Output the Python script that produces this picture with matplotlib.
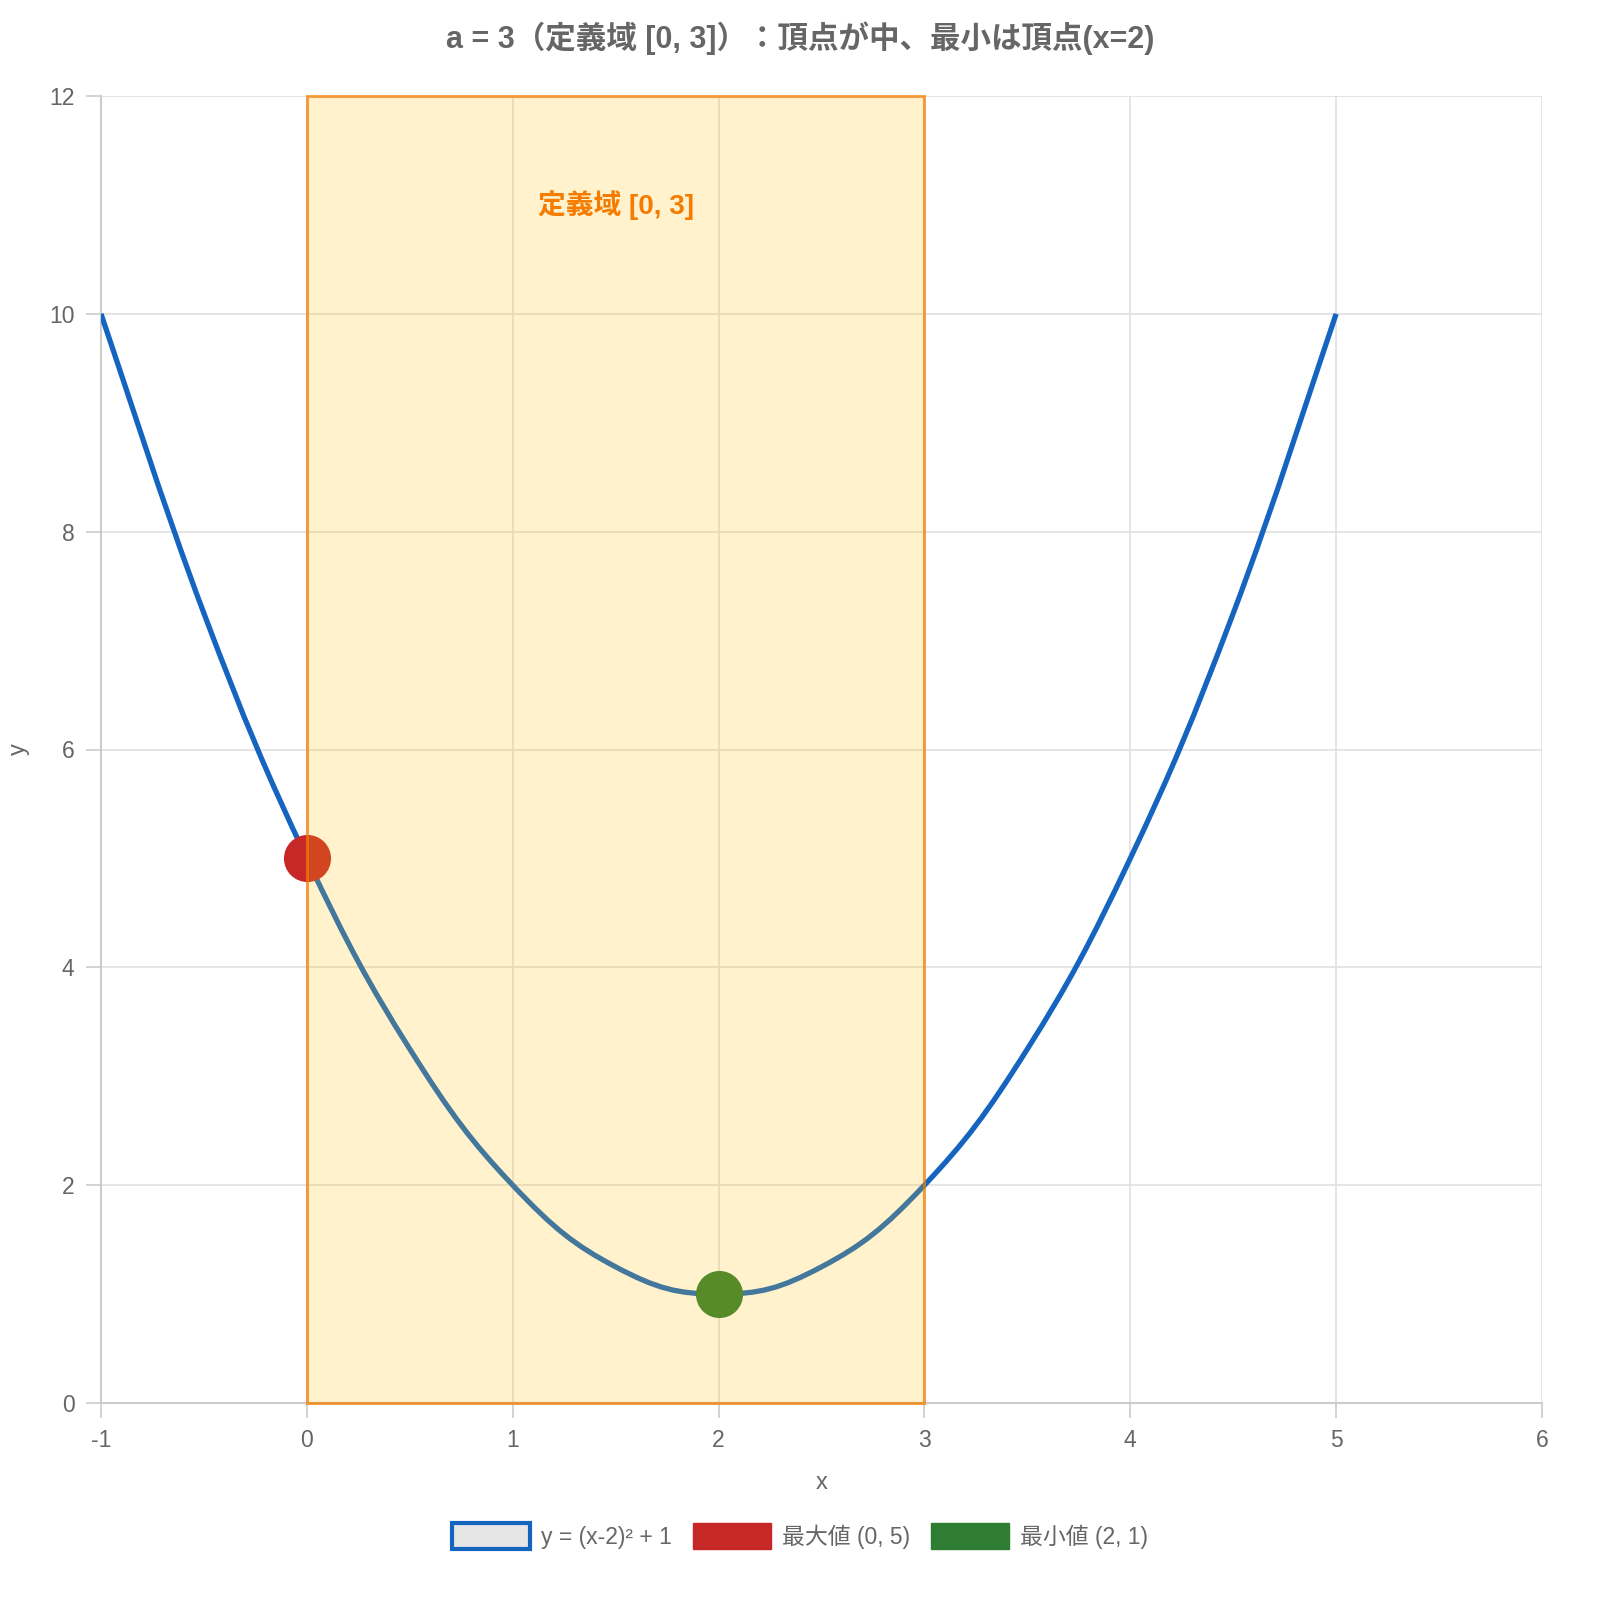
import numpy as np
import matplotlib
matplotlib.use("Agg")
import matplotlib.pyplot as plt
from matplotlib.path import Path
from matplotlib.patches import PathPatch, Rectangle, Patch

plt.rcParams['font.family'] = ['Liberation Sans', 'Noto Sans CJK JP', 'DejaVu Sans']
plt.rcParams['axes.unicode_minus'] = False

# data
curve_x = [-1, -0.5, 0, 0.5, 1, 1.5, 2, 2.5, 3, 3.5, 4, 4.5, 5]
curve_y = [10, 7.25, 5, 3.25, 2, 1.25, 1, 1.25, 2, 3.25, 5, 7.25, 10]
max_pt = (0, 5)
min_pt = (2, 1)
domain = (0, 3)

title = "a = 3（定義域 [0, 3]）：頂点が中、最小は頂点(x=2)"
domain_label = "定義域 [0, 3]"
legend_labels = ["y = (x-2)² + 1", "最大値 (0, 5)", "最小値 (2, 1)"]

BLUE = "#1565C0"
RED = "#C62828"
GREEN = "#2E7D32"
GREY = "#666666"


def smooth_path(xs, ys, t=0.4):
    # chart.js-like tension: cubic bezier through the points
    pts = np.column_stack([xs, ys]).astype(float)
    verts = [pts[0]]
    codes = [Path.MOVETO]
    n = len(pts)
    for i in range(n - 1):
        p0 = pts[i - 1] if i > 0 else pts[i]
        p1, p2 = pts[i], pts[i + 1]
        p3 = pts[i + 2] if i + 2 < n else pts[i + 1]
        c1 = p1 + (p2 - p0) * t / 2
        c2 = p2 - (p3 - p1) * t / 2
        verts += [c1, c2, p2]
        codes += [Path.CURVE4] * 3
    return Path(verts, codes)


fig = plt.figure(figsize=(16, 16), dpi=100)
ax = fig.add_axes([101 / 1600, 1 - 1403 / 1600, 1441 / 1600, 1307 / 1600])

ax.set_xlim(-1, 6)
ax.set_ylim(0, 12)
ax.set_xticks(range(-1, 7))
ax.set_yticks(range(0, 13, 2))
ax.grid(True, color="#E0E0E0", linewidth=1.2, zorder=0)
for s in ["top", "right"]:
    ax.spines[s].set_visible(False)
for s in ["left", "bottom"]:
    ax.spines[s].set_color("#CCCCCC")
    ax.spines[s].set_linewidth(1.5)
ax.tick_params(colors="#CCCCCC", labelcolor=GREY, labelsize=16.5, length=11, width=1.2, pad=8)

ax.add_patch(PathPatch(smooth_path(curve_x, curve_y), facecolor="none", edgecolor=BLUE,
                       linewidth=3.8, capstyle="butt", zorder=3))
ax.scatter([max_pt[0]], [max_pt[1]], s=1150, color=RED, zorder=4, linewidths=0)
ax.scatter([min_pt[0]], [min_pt[1]], s=1150, color=GREEN, zorder=4, linewidths=0)

ax.add_patch(Rectangle((domain[0], 0), domain[1] - domain[0], 12, facecolor=(1.0, 0.757, 0.027, 0.2),
                       edgecolor=(0.961, 0.486, 0.0, 0.7), linewidth=2.2, zorder=5, clip_on=False))
ax.text(sum(domain) / 2, 11, domain_label, color="#F57C00", fontsize=20, fontweight="bold",
        ha="center", va="center", zorder=6)

ax.set_xlabel("x", fontsize=17, color=GREY, labelpad=14)
ax.set_ylabel("y", fontsize=17, color=GREY, labelpad=14)
fig.suptitle(title, y=1 - 38 / 1600, va="center", fontsize=22, fontweight="bold", color=GREY)

handles = [Patch(facecolor="#E6E6E6", edgecolor=BLUE, linewidth=3),
           Patch(facecolor=RED, edgecolor=RED),
           Patch(facecolor=GREEN, edgecolor=GREEN)]
fig.legend(handles, legend_labels, loc="center", bbox_to_anchor=(0.5, 1 - 1536 / 1600), ncol=3,
           frameon=False, fontsize=16.5, labelcolor=GREY, handlelength=3.4, handleheight=1.35,
           handletextpad=0.5, columnspacing=0.9)

fig.savefig("out.png", dpi=100)
